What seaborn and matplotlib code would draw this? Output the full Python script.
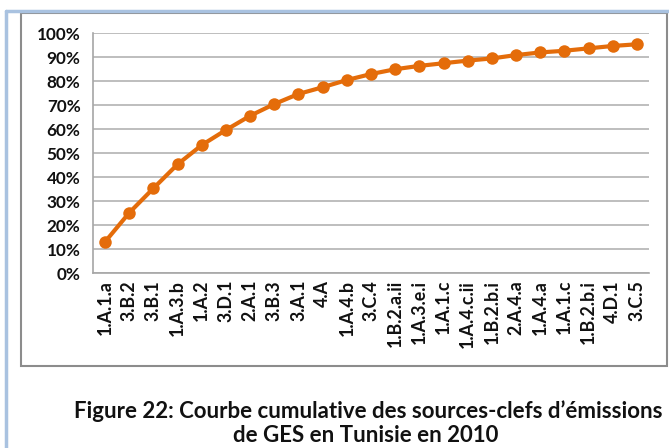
import matplotlib
matplotlib.use("Agg")
import matplotlib.pyplot as plt
import seaborn as sns
import pandas as pd
from matplotlib.ticker import FuncFormatter, FixedLocator
from matplotlib.patches import Rectangle
from matplotlib.lines import Line2D

categories = ["1.A.1.a", "3.B.2", "3.B.1", "1.A.3.b", "1.A.2", "3.D.1", "2.A.1", "3.B.3",
              "3.A.1", "4.A", "1.A.4.b", "3.C.4", "1.B.2.a.ii", "1.A.3.e.i", "1.A.1.c",
              "1.A.4.c.ii", "1.B.2.b.i", "2.A.4.a", "1.A.4.a", "1.A.1.c", "1.B.2.b.i",
              "4.D.1", "3.C.5"]
cumulative = [0.130, 0.251, 0.353, 0.453, 0.533, 0.596, 0.655, 0.704, 0.746, 0.774,
              0.804, 0.829, 0.849, 0.863, 0.874, 0.885, 0.894, 0.908, 0.919, 0.926,
              0.936, 0.946, 0.953]
y_ticks = [0.0, 0.1, 0.2, 0.3, 0.4, 0.5, 0.6, 0.7, 0.8, 0.9, 1.0]
caption = ["Figure 22: Courbe cumulative des sources-clefs d\u2019émissions",
           "de GES en Tunisie en 2010"]

df = pd.DataFrame({"pos": range(len(categories)), "label": categories, "value": cumulative})

sns.set_theme(style="white")
plt.rcParams["font.family"] = ["Lato", "DejaVu Sans"]

W, H = 669, 448
fig = plt.figure(figsize=(W / 100, H / 100), dpi=100)
fig.patch.set_facecolor("white")

# outer light-blue frame (left and top)
fig.add_artist(Line2D([6 / W, 6 / W], [0, 1 - 11 / H], transform=fig.transFigure,
                      color="#A9C2E0", lw=2.5))
fig.add_artist(Line2D([6 / W, 1], [1 - 11 / H, 1 - 11 / H], transform=fig.transFigure,
                      color="#A9C2E0", lw=2.5))
# chart area gray border
fig.add_artist(Rectangle((21 / W, 1 - 366 / H), (667 - 21) / W, (366 - 13) / H,
                         transform=fig.transFigure, fill=False, edgecolor="#8C8C8C", lw=1.5))

left, right, top, bottom = 93, 649, 33, 273
ax = fig.add_axes([left / W, 1 - bottom / H, (right - left) / W, (bottom - top) / H])

sns.lineplot(data=df, x="pos", y="value", ax=ax, color="#E46C0A", lw=3.0,
             marker="o", markersize=9, markeredgewidth=0, zorder=3)

ax.set_xlim(-0.5, len(categories) - 0.5)
ax.set_ylim(0, 1)
ax.set_yticks(y_ticks)
ax.yaxis.set_major_formatter(FuncFormatter(lambda v, p: f"{v*100:.0f}%"))
ax.set_xticks(list(df["pos"]))
ax.set_xticklabels(df["label"], rotation=90)
ax.xaxis.set_minor_locator(FixedLocator([i - 0.5 for i in range(len(categories) + 1)]))
ax.tick_params(axis="x", which="major", length=0, pad=5, labelsize=12.8, colors="#111111")
ax.tick_params(axis="x", which="minor", length=5, width=1, color="#A6A6A6", direction="out")
ax.tick_params(axis="y", which="major", length=5, width=1, color="#A6A6A6",
               direction="out", pad=4, labelsize=12.3, labelcolor="#111111")
for t in ax.get_xticklabels() + ax.get_yticklabels():
    t.set_fontweight("bold")

ax.grid(axis="y", color="#B3B3B3", lw=1.2)
ax.grid(axis="x", visible=False)
ax.set_axisbelow(True)
for s in ["top", "right"]:
    ax.spines[s].set_visible(False)
for s in ["left", "bottom"]:
    ax.spines[s].set_color("#A6A6A6")
    ax.spines[s].set_linewidth(1.2)
ax.set_xlabel("")
ax.set_ylabel("")

fig.text(368 / W, 1 - 418 / H, caption[0], ha="center", va="baseline",
         fontsize=16, fontweight="bold", color="#111111")
fig.text(366 / W, 1 - 442 / H, caption[1], ha="center", va="baseline",
         fontsize=16, fontweight="bold", color="#111111")

fig.savefig("out.png", dpi=100)
